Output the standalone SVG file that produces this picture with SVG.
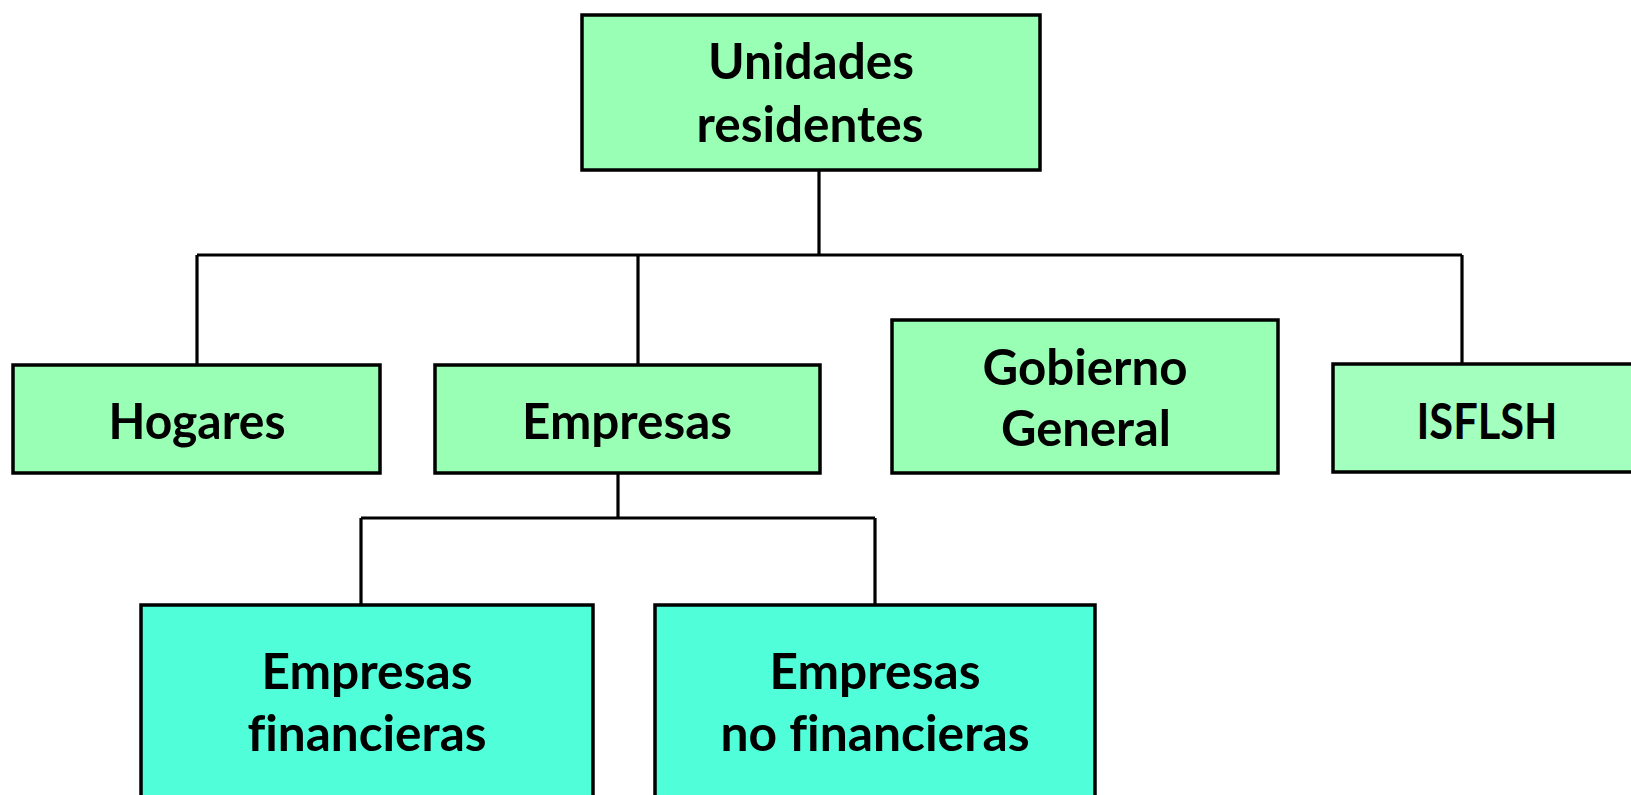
<svg xmlns="http://www.w3.org/2000/svg" width="1631" height="795" viewBox="0 0 1631 795">
<style>
.box{stroke:#000;stroke-width:3.5}
.g{fill:#99FFB4}
.g2{fill:#A3FFBE}
.c{fill:#50FFDA}
.t{font-family:Lato,"Open Sans","Liberation Sans",sans-serif;font-weight:bold;font-size:49px;fill:#000;text-anchor:middle;font-variant-ligatures:none;font-feature-settings:"liga" 0}
.ln{stroke:#000;stroke-width:3.2;fill:none}
</style>
<rect width="1631" height="795" fill="#fff"/>
<g id="connectors">
<path class="ln" d="M819 170V255M197 255H1462M197 255V365M638 255V365M1462 255V364"/>
<path class="ln" d="M618 473V518M361 518H875M361 518V605M875 518V605"/>
</g>
<g id="unidades">
<rect class="box g" x="582" y="15" width="458" height="155"/>
<text class="t" x="811" y="79" textLength="206" lengthAdjust="spacingAndGlyphs">Unidades</text>
<text class="t" x="810" y="142" textLength="227" lengthAdjust="spacingAndGlyphs">residentes</text>
</g>
<g id="hogares">
<rect class="box g" x="13" y="365" width="367" height="108"/>
<text class="t" x="197" y="439" textLength="177" lengthAdjust="spacingAndGlyphs">Hogares</text>
</g>
<g id="empresas">
<rect class="box g" x="435" y="365" width="385" height="108"/>
<text class="t" x="627" y="439" textLength="210" lengthAdjust="spacingAndGlyphs">Empresas</text>
</g>
<g id="gobierno">
<rect class="box g" x="892" y="320" width="386" height="153"/>
<text class="t" x="1085" y="385" textLength="205" lengthAdjust="spacingAndGlyphs">Gobierno</text>
<text class="t" x="1086" y="446" textLength="170" lengthAdjust="spacingAndGlyphs">General</text>
</g>
<g id="isflsh">
<rect class="box g2" x="1333" y="364" width="320" height="108"/>
<text class="t" x="1487" y="439" textLength="141" lengthAdjust="spacingAndGlyphs">ISFLSH</text>
</g>
<g id="financieras">
<rect class="box c" x="141" y="605" width="452" height="210"/>
<text class="t" x="367" y="689" textLength="211" lengthAdjust="spacingAndGlyphs">Empresas</text>
<text class="t" x="367" y="751" textLength="239" lengthAdjust="spacingAndGlyphs">financieras</text>
</g>
<g id="nofinancieras">
<rect class="box c" x="655" y="605" width="440" height="210"/>
<text class="t" x="875" y="689" textLength="211" lengthAdjust="spacingAndGlyphs">Empresas</text>
<text class="t" x="875" y="751" textLength="309" lengthAdjust="spacingAndGlyphs">no financieras</text>
</g>
</svg>
